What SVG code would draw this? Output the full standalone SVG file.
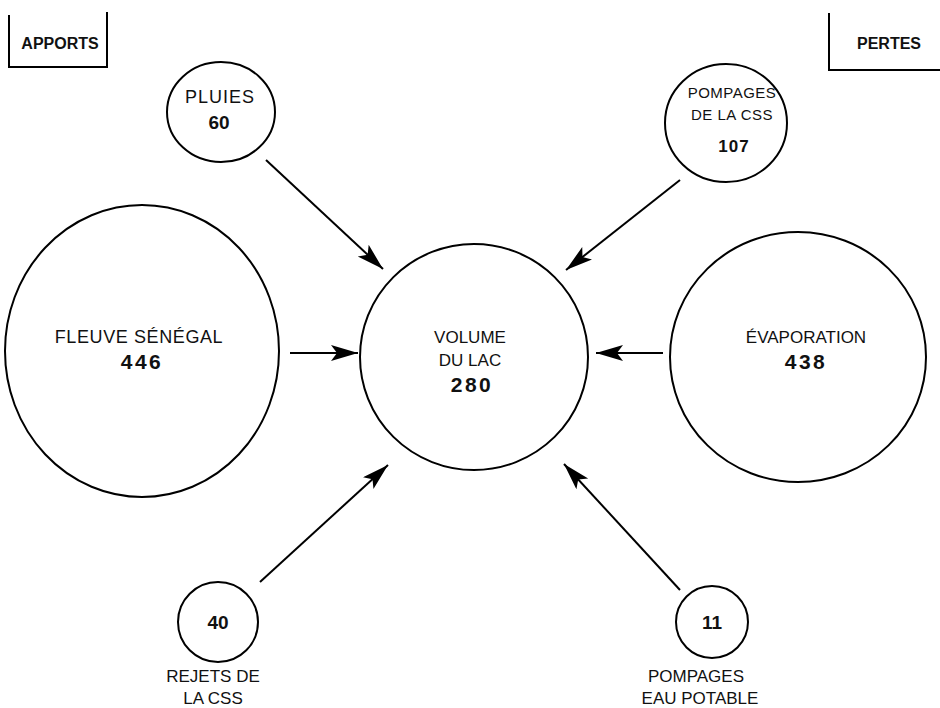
<svg xmlns="http://www.w3.org/2000/svg" width="940" height="708" viewBox="0 0 940 708">
<style>
.n{fill:none;stroke:#000;stroke-width:2}
.t{font-family:"Liberation Sans",Arial,sans-serif;font-size:17px;fill:#111;text-anchor:middle}
.b{font-family:"Liberation Sans",Arial,sans-serif;font-size:19px;font-weight:bold;fill:#111;text-anchor:middle}
.B{font-family:"Liberation Sans",Arial,sans-serif;font-size:21px;font-weight:bold;fill:#111;text-anchor:middle;letter-spacing:2.5px}
.s{font-family:"Liberation Sans",Arial,sans-serif;font-size:15px;fill:#111;text-anchor:middle;letter-spacing:0.5px}
.h{font-family:"Liberation Sans",Arial,sans-serif;font-size:16px;font-weight:bold;fill:#111;text-anchor:middle}
.c{fill:none;stroke:#000;stroke-width:2;marker-end:url(#ah)}
</style>
<defs>
<marker id="ah" markerUnits="userSpaceOnUse" markerWidth="28" markerHeight="18" refX="27" refY="8" orient="auto">
<path d="M0,0 L27,8 L0,16 L6,8 z" fill="#000"/>
</marker>
</defs>
<rect width="940" height="708" fill="#fff"/>
<g id="apports">
<path class="n" d="M9,15 V67 H107 V12"/>
<text class="h" x="60" y="49">APPORTS</text>
</g>
<g id="pertes">
<path class="n" d="M829,13 V70 H940"/>
<text class="h" x="889" y="49">PERTES</text>
</g>
<g id="pluies">
<ellipse class="n" cx="221" cy="112" rx="54" ry="50"/>
<text class="t" x="220" y="103" style="font-size:18px;letter-spacing:1px">PLUIES</text>
<text class="b" x="219" y="129">60</text>
</g>
<g id="pompages-css">
<ellipse class="n" cx="726" cy="123" rx="61" ry="59"/>
<text class="s" x="732" y="98">POMPAGES</text>
<text class="s" x="732" y="120">DE LA CSS</text>
<text class="b" x="734" y="152" style="font-size:17px;letter-spacing:1px">107</text>
</g>
<g id="fleuve">
<ellipse class="n" cx="142" cy="351" rx="137" ry="146"/>
<text class="t" x="139" y="343" style="font-size:18px;letter-spacing:0.6px">FLEUVE SÉNÉGAL</text>
<text class="B" x="142" y="369">446</text>
</g>
<g id="volume">
<ellipse class="n" cx="474" cy="357" rx="114" ry="113"/>
<text class="t" x="470" y="343">VOLUME</text>
<text class="t" x="470" y="366">DU LAC</text>
<text class="B" x="472" y="392">280</text>
</g>
<g id="evaporation">
<ellipse class="n" cx="798" cy="357" rx="128" ry="125"/>
<text class="t" x="806" y="343">ÉVAPORATION</text>
<text class="B" x="806" y="369">438</text>
</g>
<g id="rejets">
<circle class="n" cx="218" cy="622" r="40"/>
<text class="b" x="218" y="629">40</text>
<text class="t" x="213" y="682">REJETS DE</text>
<text class="t" x="213" y="704">LA CSS</text>
</g>
<g id="pompages-eau">
<circle class="n" cx="712" cy="622" r="36"/>
<text class="b" x="712" y="629">11</text>
<text class="t" x="696" y="682">POMPAGES</text>
<text class="t" x="700" y="704">EAU POTABLE</text>
</g>
<g id="connectors">
<line class="c" x1="266" y1="160" x2="383" y2="269"/>
<line class="c" x1="680" y1="180" x2="566" y2="270"/>
<line class="c" x1="290" y1="353" x2="358" y2="353"/>
<line class="c" x1="663" y1="353" x2="596" y2="353"/>
<line class="c" x1="260" y1="582" x2="388" y2="465"/>
<line class="c" x1="680" y1="590" x2="564" y2="464"/>
</g>
</svg>
